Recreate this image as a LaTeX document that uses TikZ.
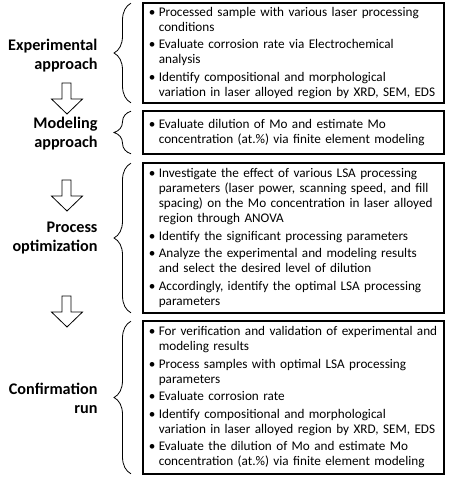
\documentclass[tikz,border=0pt]{standalone}
\usepackage{fontspec}
\setmainfont{Carlito}
\usetikzlibrary{positioning,calc,decorations.pathreplacing}
\newcommand{\bul}{\makebox[10pt][l]{\textbullet}}
\newcommand{\ind}{\hspace*{10pt}}

\begin{document}
\begin{tikzpicture}[x=1pt,y=-1pt]
    \tikzstyle{stepbox}=[draw, line width=1.6pt, anchor=west, text width=289pt, inner xsep=6pt, inner ysep=2pt, align=left, font=\fontsize{13.2}{15}\selectfont]
    \tikzstyle{phase}=[anchor=east, align=right, font=\fontsize{16.2}{19}\selectfont\bfseries]
    \tikzstyle{curly}=[decorate, decoration={brace, amplitude=17pt}, line width=0.8pt]
    \tikzstyle{hollow}=[draw, line width=0.8pt, fill=white]
    \useasboundingbox (0,0) rectangle (449,480);

    % Boxes with the steps
    \node (box1)[stepbox, minimum height=100pt] at (142,53) {%
        \bul Processed sample with various laser processing\\
        \ind conditions\\[2.5pt]
        \bul Evaluate corrosion rate via Electrochemical\\
        \ind analysis\\[2.5pt]
        \bul Identify compositional and morphological\\
        \ind variation in laser alloyed region by XRD, SEM, EDS};
    \node (box2)[stepbox, minimum height=43pt] at (142,132.5) {%
        \bul Evaluate dilution of Mo and estimate Mo\\
        \ind concentration (at.\%) via finite element modeling};
    \node (box3)[stepbox, minimum height=150pt] at (142,238) {%
        \bul Investigate the effect of various LSA processing\\
        \ind parameters (laser power, scanning speed, and fill\\
        \ind spacing) on the Mo concentration in laser alloyed\\
        \ind region through ANOVA\\[2.5pt]
        \bul Identify the significant processing parameters\\[2.5pt]
        \bul Analyze the experimental and modeling results\\
        \ind and select the desired level of dilution\\[2.5pt]
        \bul Accordingly, identify the optimal LSA processing\\
        \ind parameters};
    \node (box4)[stepbox, minimum height=153pt] at (142,397.5) {%
        \bul For verification and validation of experimental and\\
        \ind modeling results\\[2.5pt]
        \bul Process samples with optimal LSA processing\\
        \ind parameters\\[2.5pt]
        \bul Evaluate corrosion rate\\[2.5pt]
        \bul Identify compositional and morphological\\
        \ind variation in laser alloyed region by XRD, SEM, EDS\\[2.5pt]
        \bul Evaluate the dilution of Mo and estimate Mo\\
        \ind concentration (at.\%) via finite element modeling};

    % Phase names
    \node (exp)[phase] at (101,56) {Experimental\\approach};
    \node (mod)[phase] at (101,134) {Modeling\\approach};
    \node (opt)[phase] at (101,238) {Process\\optimization};
    \node (conf)[phase] at (101,398) {Confirmation\\run};

    % Braces
    \foreach \b in {box1,box2,box3,box4}
        \draw[curly] ($(\b.south west)+(-11,-1)$) -- ($(\b.north west)+(-11,1)$);

    % Hollow arrows between the phases
    \foreach \t in {83,180,296}
        \draw[hollow] (62,\t) -- (71,\t) -- (71,\t+16) -- (82.5,\t+16) -- (67,\t+31)
            -- (51.5,\t+16) -- (62,\t+16) -- cycle;
\end{tikzpicture}
\end{document}
